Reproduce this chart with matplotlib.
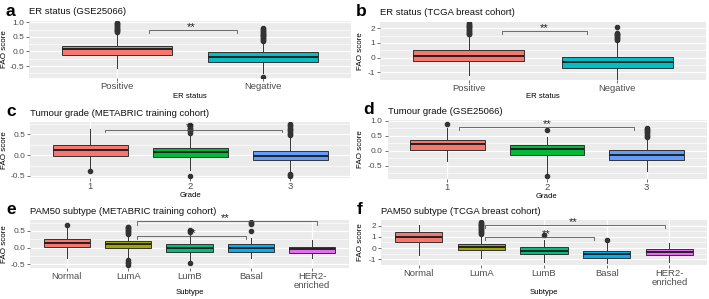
import matplotlib
matplotlib.use("Agg")
import matplotlib.pyplot as plt

plt.rcParams['font.family'] = ['Liberation Sans', 'DejaVu Sans']

W, H = 709, 299

# ---- data ----
er_cats = ["Positive", "Negative"]
grade_cats = ["1", "2", "3"]
pam50_cats = ["Normal", "LumA", "LumB", "Basal", "HER2-\nenriched"]

hue2 = ["#F8766D", "#00BFC4"]
hue3 = ["#F8766D", "#00BA38", "#619CFF"]
hue5 = ["#F8766D", "#A3A500", "#00BF7D", "#00B0F6", "#E76BF3"]

# each box: whislo, q1, med, q3, whishi
a_box = [[-0.58, -0.11, 0.07, 0.20, 0.63],
         [-0.74, -0.355, -0.19, -0.03, 0.34]]
a_out = [[0.66, 0.69, 0.72, 0.75, 0.78, 0.81, 0.84, 0.87, 0.90, 0.93, 0.96, 0.99],
         [0.37, 0.40, 0.43, 0.46, 0.49, 0.52, 0.55, 0.58, 0.61, 0.64, 0.67, 0.70, 0.73, 0.76, 0.79, -0.88]]

b_box = [[-1.20, -0.23, 0.11, 0.50, 1.53],
         [-1.44, -0.71, -0.30, 0.04, 1.18]]
b_out = [[1.58, 1.64, 1.70, 1.76, 1.82, 1.88, 1.94, 2.00, 2.06, 2.12, 2.18, 2.24, 2.30, 2.35],
         [1.22, 1.28, 1.34, 1.40, 1.46, 1.52, 1.58, 1.64, 1.70, 2.07]]

c_box = [[-0.35, -0.01, 0.13, 0.25, 0.62],
         [-0.35, -0.04, 0.07, 0.18, 0.50],
         [-0.40, -0.12, -0.02, 0.09, 0.45]]
c_out = [[-0.39],
         [0.54, 0.57, 0.60, 0.63, 0.66, 0.69, 0.72, -0.50],
         [0.48, 0.51, 0.54, 0.57, 0.60, 0.63, 0.66, 0.69, 0.72, 0.75, -0.45, -0.48, -0.50]]

d_box = [[-0.33, 0.03, 0.22, 0.35, 0.76],
         [-0.75, -0.14, 0.07, 0.18, 0.45],
         [-0.69, -0.30, -0.15, 0.04, 0.43]]
d_out = [[0.91],
         [0.70, -0.86],
         [0.46, 0.50, 0.54, 0.58, 0.62, 0.66, 0.70, 0.74, 0.76]]

e_box = [[-0.32, 0.01, 0.13, 0.26, 0.60],
         [-0.27, -0.02, 0.10, 0.21, 0.36],
         [-0.42, -0.14, -0.02, 0.10, 0.45],
         [-0.32, -0.12, 0.00, 0.11, 0.30],
         [-0.32, -0.15, -0.05, 0.03, 0.23]]
e_out = [[0.68],
         [0.40, 0.43, 0.46, 0.49, 0.52, 0.55, 0.58, 0.61, 0.63, -0.37, -0.42, -0.47, -0.52],
         [0.48, 0.51, 0.54, -0.47],
         [0.51, 0.70, 0.73, 0.76],
         []]

f_box = [[-0.65, 0.54, 0.98, 1.43, 2.10],
         [-0.90, -0.18, 0.12, 0.41, 1.20],
         [-1.20, -0.54, -0.24, 0.06, 0.74],
         [-1.35, -0.90, -0.54, -0.24, 0.55],
         [-1.20, -0.66, -0.36, -0.06, 0.45]]
f_out = [[],
         [1.30, 1.38, 1.46, 1.54, 1.62, 1.70, 1.78, 1.86, 1.94, 2.02, 2.10, 2.18, 2.26, 2.32],
         [1.20],
         [0.72],
         []]

# brackets: x1, x2, bar y, tick bottom, star x
a_sig = [[1.22, 1.82, 0.74, 0.64, 1.51]]
b_sig = [[1.22, 1.80, 1.80, 1.64, 1.51]]
c_sig = [[1.15, 2.92, 0.60, 0.55, 2.00]]
d_sig = [[1.12, 2.87, 0.79, 0.70, 2.00]]
e_sig = [[2.15, 3.92, 0.36, 0.26, 3.05],
         [2.15, 5.08, 0.80, 0.68, 3.58]]
f_sig = [[2.06, 3.80, 0.95, 0.74, 3.04],
         [2.06, 4.93, 2.08, 1.79, 3.47]]

fig = plt.figure(figsize=(W / 100, H / 100), dpi=100)


def px(x, y):
    return x / W, 1 - y / H


def panel(rect, cats, box, out, colors, ylim, yt, ytl, ymin, sig, title, xlab, letter, lab_y, ylab_x):
    x0, y0, x1, y1 = rect
    ax = fig.add_axes([x0 / W, 1 - y1 / H, (x1 - x0) / W, (y1 - y0) / H])
    ax.set_facecolor("#EBEBEB")
    pos = list(range(1, len(cats) + 1))
    stats = []
    for b, o in zip(box, out):
        stats.append(dict(whislo=b[0], q1=b[1], med=b[2], q3=b[3], whishi=b[4], fliers=o))
    bp = ax.bxp(stats, positions=pos, widths=0.75, patch_artist=True, showcaps=False,
                boxprops=dict(edgecolor="#333333", linewidth=0.7),
                medianprops=dict(color="#222222", linewidth=1.4),
                whiskerprops=dict(color="#333333", linewidth=0.7),
                flierprops=dict(marker="o", markerfacecolor="#333333", markeredgecolor="#333333",
                                markersize=3))
    for patch, c in zip(bp["boxes"], colors):
        patch.set_facecolor(c)
    for s in sig:
        ax.plot([s[0], s[0], s[1], s[1]], [s[3], s[2], s[2], s[3]], color="#555555", lw=0.6)
        ax.text(s[4], s[2], "**", ha="center", va="baseline", fontsize=8, color="#222222",
                clip_on=False)
    ax.set_xlim(0.4, len(cats) + 0.6)
    ax.set_ylim(*ylim)
    ax.set_xticks(pos)
    ax.set_xticklabels(cats, fontsize=6.8, color="#4D4D4D", linespacing=1.0)
    ax.set_yticks(yt)
    ax.set_yticklabels(ytl, fontsize=6, color="#4D4D4D")
    ax.set_yticks(ymin, minor=True)
    ax.tick_params(axis="both", length=2, width=0.5, color="#333333", pad=1.5)
    ax.tick_params(axis="x", pad=1.0)
    ax.tick_params(axis="y", which="minor", length=0)
    ax.grid(True, which="major", color="white", lw=0.9)
    ax.grid(True, which="minor", axis="y", color="white", lw=0.45)
    ax.set_axisbelow(True)
    for sp in ax.spines.values():
        sp.set_visible(False)
    fx, fy = px(x0, y0 - 9)
    fig.text(fx, fy, title, fontsize=6.8, ha="left", va="center", color="#111111")
    fx, fy = px(x0 - 24, y0 - 10)
    fig.text(fx, fy, letter, fontsize=12.5, fontweight="bold", ha="left", va="center")
    fx, fy = px((x0 + x1) / 2, lab_y)
    fig.text(fx, fy, xlab, fontsize=5.6, ha="center", va="center")
    fx, fy = px(ylab_x, (y0 + y1) / 2)
    fig.text(fx, fy, "FAO score", fontsize=5.8, ha="center", va="center", rotation=90)
    return ax


panel((29, 21, 351, 78), er_cats, a_box, a_out, hue2, (-0.91, 1.045),
      [-0.5, 0, 0.5, 1.0], ["-0.5", "0.0", "0.5", "1.0"], [-0.75, -0.25, 0.25, 0.75],
      a_sig, "ER status (GSE25066)", "ER status", "a", 96.5, 5)
panel((380, 21.5, 706, 80), er_cats, b_box, b_out, hue2, (-1.52, 2.46),
      [-1, 0, 1, 2], ["-1", "0", "1", "2"], [-1.5, -0.5, 0.5, 1.5],
      b_sig, "ER status (TCGA breast cohort)", "ER status", "b", 96.5, 361)
panel((30, 122, 350, 178), grade_cats, c_box, c_out, hue3, (-0.55, 0.795),
      [-0.5, 0, 0.5], ["-0.5", "0.0", "0.5"], [-0.25, 0.25, 0.75],
      c_sig, "Tumour grade (METABRIC training cohort)", "Grade", "c", 195.5, 5)
panel((387.5, 120, 706.5, 179), grade_cats, d_box, d_out, hue3, (-0.95, 1.03),
      [-0.5, 0, 0.5, 1.0], ["-0.5", "0.0", "0.5", "1.0"], [-0.75, -0.25, 0.25, 0.75],
      d_sig, "Tumour grade (GSE25066)", "Grade", "d", 196, 361)
panel((30, 220, 349, 267.5), pam50_cats, e_box, e_out, hue5, (-0.6, 0.83),
      [-0.5, 0, 0.5], ["-0.5", "0.0", "0.5"], [-0.25, 0.25, 0.75],
      e_sig, "PAM50 subtype (METABRIC training cohort)", "Subtype", "e", 292, 5)
panel((381, 220, 707, 265), pam50_cats, f_box, f_out, hue5, (-1.51, 2.51),
      [-1, 0, 1, 2], ["-1", "0", "1", "2"], [-1.5, -0.5, 0.5, 1.5],
      f_sig, "PAM50 subtype (TCGA breast cohort)", "Subtype", "f", 292, 361)

fig.savefig("out.png", dpi=100)
